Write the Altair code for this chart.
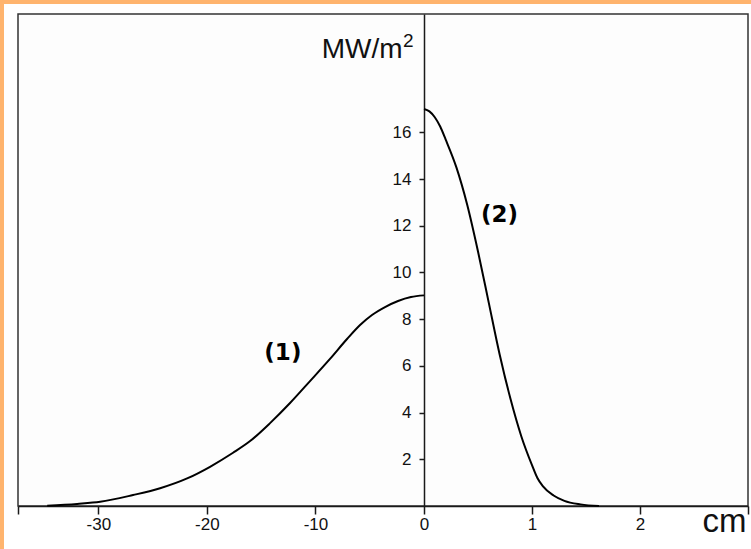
import altair as alt
import pandas as pd

# Curve (1): flux density along the negative side (left scale, cm)
x1 = [-34.71, -31.95, -29.83, -26.80, -24.31, -21.82, -19.71, -17.59, -16.02, -14.18,
      -12.34, -10.50, -8.66, -7.09, -5.89, -4.79, -3.59, -2.39, -1.20, 0.0]
y1 = [0.01, 0.09, 0.18, 0.47, 0.76, 1.18, 1.68, 2.28, 2.78, 3.55,
      4.41, 5.35, 6.30, 7.15, 7.75, 8.18, 8.52, 8.78, 8.95, 9.02]

# Curve (2): flux density along the positive side (right scale, cm)
x2 = [0.0, 0.05, 0.10, 0.15, 0.20, 0.30, 0.40, 0.50, 0.60, 0.70, 0.80, 0.90,
      1.00, 1.05, 1.10, 1.20, 1.30, 1.45, 1.62]
y2 = [17.0, 16.9, 16.65, 16.25, 15.7, 14.5, 12.9, 10.9, 8.7, 6.5, 4.6, 3.0,
      1.75, 1.2, 0.85, 0.45, 0.22, 0.07, 0.0]

x_ticks = [-37.4, -30, -20, -10, 0, 1, 2, 3]
y_ticks = [2, 4, 6, 8, 10, 12, 14, 16]

labels = ["(1)", "(2)"]
label_x = [-13.0, 0.70]
label_y = [6.55, 12.46]

W, H = 730, 492
ORANGE = "#FFB46E"
INK = "#1a1a1a"
TXT = "#111111"
LABEL_SIZE = 17

curves = pd.DataFrame(
    {"x": x1 + x2, "y": y1 + y2, "curve": ["1"] * len(x1) + ["2"] * len(x2)}
)
notes = pd.DataFrame({"x": label_x, "y": label_y, "t": labels})

# piecewise x scale: compressed negative side, stretched positive side
xscale = alt.Scale(domain=[-37.4, 0, 3], range=[0, 406, W], nice=False, zero=False)
yscale = alt.Scale(domain=[0, 21.07], nice=False, zero=False)

x_axis = alt.Axis(
    values=x_ticks,
    labelExpr="(datum.value < -37 || datum.value > 2.9) ? '' : '' + datum.value",
    grid=False,
    domainColor=INK,
    domainWidth=1.5,
    tickColor=INK,
    tickWidth=1.5,
    tickSize=8,
    labelFont="Liberation Sans",
    labelFontSize=LABEL_SIZE,
    labelColor=TXT,
    labelPadding=2,
    title="cm",
    titleFont="Liberation Sans",
    titleFontSize=33,
    titleFontWeight="normal",
    titleColor=TXT,
    titleAnchor="end",
    titleAlign="right",
    titleBaseline="alphabetic",
    titleX=728,
    titleY=25,
)

y_axis = alt.Axis(
    values=y_ticks,
    format="d",
    offset=-406,
    grid=False,
    domainColor=INK,
    domainWidth=1.5,
    tickColor=INK,
    tickWidth=1.5,
    tickSize=5,
    labelFont="Liberation Sans",
    labelFontSize=LABEL_SIZE,
    labelColor=TXT,
    labelPadding=8,
    title="MW/m",
    titleFont="Liberation Sans",
    titleFontSize=28,
    titleFontWeight="normal",
    titleColor=TXT,
    titleAngle=0,
    titleAlign="right",
    titleBaseline="alphabetic",
    titleX=-22,
    titleY=43,
)

lines = (
    alt.Chart(curves)
    .mark_line(color="black", strokeWidth=2, interpolate="monotone")
    .encode(
        x=alt.X("x:Q", scale=xscale, axis=x_axis),
        y=alt.Y("y:Q", scale=yscale, axis=y_axis),
        detail="curve:N",
    )
)

text = (
    alt.Chart(notes)
    .mark_text(font="DejaVu Sans", fontSize=23, fontWeight="bold", color="black")
    .encode(x=alt.X("x:Q", scale=xscale), y=alt.Y("y:Q", scale=yscale), text="t:N")
)

# superscript of the unit label
frame = pd.DataFrame({"k": [0]})
sup = alt.Chart(frame).mark_text(
    text="2", font="Liberation Sans", fontSize=19, color=TXT, align="left", baseline="alphabetic"
).encode(x=alt.value(385), y=alt.value(33))

# orange frame strips along the top and left edges of the page
top_strip = alt.Chart(frame).mark_rect(color=ORANGE).encode(
    x=alt.value(-18), x2=alt.value(W + 3), y=alt.value(-14), y2=alt.value(-10)
)
left_strip = alt.Chart(frame).mark_rect(color=ORANGE).encode(
    x=alt.value(-18), x2=alt.value(-14), y=alt.value(-14), y2=alt.value(H + 43)
)

chart = (
    alt.layer(top_strip, left_strip, lines, text, sup)
    .properties(
        width=W,
        height=H,
        background="white",
        padding={"left": 18, "top": 14, "right": 3, "bottom": 43},
        autosize=alt.AutoSizeParams(type="none"),
    )
    .configure_axis(labelFontSize=LABEL_SIZE)
    .configure_view(stroke="#333333", strokeWidth=1.5, fill="#fdfdfd")
)

chart.save("out.html", embed_options={"renderer": "svg", "actions": False})
